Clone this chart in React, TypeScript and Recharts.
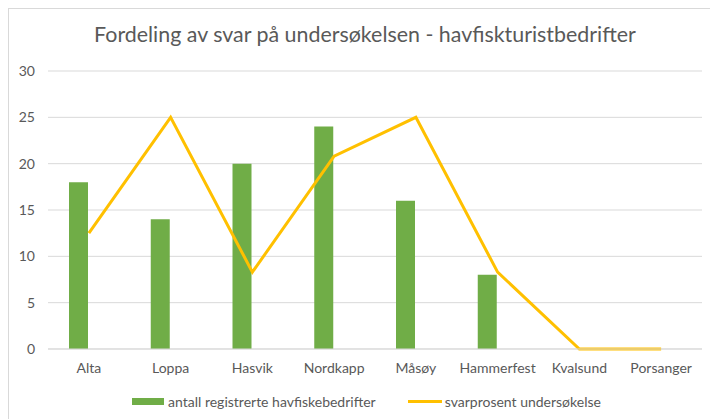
import React from "react";
import { ComposedChart, Bar, Line, XAxis, YAxis, CartesianGrid, Legend } from "recharts";

const categories = ["Alta", "Loppa", "Hasvik", "Nordkapp", "Måsøy", "Hammerfest", "Kvalsund", "Porsanger"];
const antallRegistrerte = [18, 14, 20, 24, 16, 8, 0, 0];
const svarprosent = [12.5, 25, 8.3, 20.8, 25, 8.3, 0, 0];
const yTicks = [0, 5, 10, 15, 20, 25, 30];

const TITLE = "Fordeling av svar på undersøkelsen - havfiskturistbedrifter";
const BAR_NAME = "antall registrerte havfiskebedrifter";
const LINE_NAME = "svarprosent undersøkelse";

const data = categories.map((c, i) => ({
  name: c,
  antall: antallRegistrerte[i],
  svar: svarprosent[i],
}));

const FONT = "Lato, 'Open Sans', sans-serif";
const TEXT = "#595959";
const GREEN = "#70AD47";
const YELLOW = "#FFC000";

const LegendContent = () => (
  <div
    style={{
      display: "flex",
      justifyContent: "center",
      alignItems: "center",
      height: 20,
      fontFamily: FONT,
      fontSize: 14,
      color: TEXT,
      paddingLeft: 14,
    }}
  >
    <span style={{ display: "inline-block", width: 32, height: 7, background: GREEN, marginRight: 4 }} />
    <span>{BAR_NAME}</span>
    <span style={{ display: "inline-block", width: 34, height: 3, background: YELLOW, marginLeft: 32, marginRight: 3 }} />
    <span>{LINE_NAME}</span>
  </div>
);

export default function App() {
  return (
    <>
      <style>{"html,body{margin:0;padding:0;overflow:hidden;background:#fff}"}</style>
      <div
        style={{
          position: "relative",
          marginLeft: 8,
          marginTop: 8,
          width: 701,
          height: 410,
          borderTop: "1px solid #D9D9D9",
          borderLeft: "1px solid #D9D9D9",
          background: "#fff",
        }}
      >
        <div
          style={{
            position: "absolute",
            top: 15,
            left: 0,
            width: 712,
            textAlign: "center",
            fontFamily: FONT,
            fontSize: 21.4,
            lineHeight: "21px",
            color: TEXT,
            whiteSpace: "nowrap",
          }}
        >
          {TITLE}
        </div>
        <ComposedChart
          width={701}
          height={410}
          data={data}
          margin={{ top: 62, right: 8, bottom: 20, left: 0 }}
          barGap={2}
          barSize={19}
        >
          <CartesianGrid vertical={false} stroke="#D9D9D9" strokeWidth={1} />
          <XAxis
            dataKey="name"
            height={30}
            axisLine={{ stroke: "#D9D9D9" }}
            tickLine={false}
            tickSize={0}
            tickMargin={14}
            tick={{ fill: TEXT, fontSize: 14, fontFamily: FONT }}
            interval={0}
          />
          <YAxis
            width={39}
            domain={[0, 30]}
            ticks={yTicks}
            axisLine={false}
            tickLine={false}
            tickSize={0}
            tickMargin={13}
            tick={{ fill: TEXT, fontSize: 14, fontFamily: FONT }}
          />
          <Legend
            content={<LegendContent />}
            wrapperStyle={{ top: 382, bottom: "auto", left: 0, width: 701 }}
          />
          <Bar dataKey="antall" name={BAR_NAME} fill={GREEN} isAnimationActive={false} />
          <Bar dataKey="placeholder" legendType="none" fill="transparent" isAnimationActive={false} />
          <Line
            type="linear"
            dataKey="svar"
            name={LINE_NAME}
            stroke={YELLOW}
            strokeWidth={3}
            dot={false}
            activeDot={false}
            isAnimationActive={false}
          />
        </ComposedChart>
      </div>
    </>
  );
}
